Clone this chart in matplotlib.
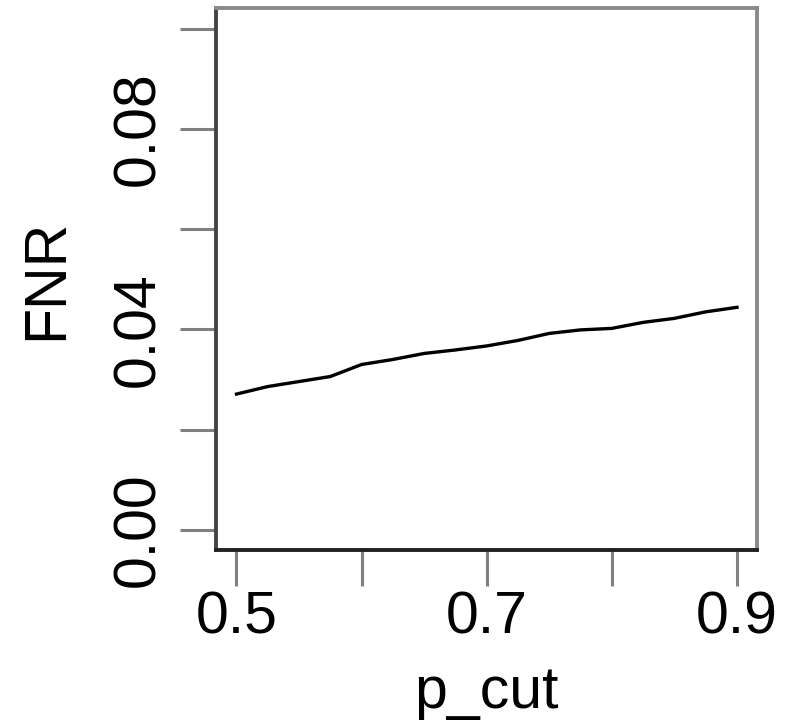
import matplotlib
matplotlib.use("Agg")
import matplotlib.pyplot as plt

# FNR vs p_cut
p_cut = [0.500, 0.525, 0.550, 0.575, 0.600, 0.625, 0.650, 0.675, 0.700,
         0.725, 0.750, 0.775, 0.800, 0.825, 0.850, 0.875, 0.900]
fnr = [0.0271, 0.0286, 0.0296, 0.0306, 0.0330, 0.0340, 0.0352, 0.0359, 0.0367,
       0.0378, 0.0392, 0.0399, 0.0402, 0.0414, 0.0422, 0.0435, 0.0444]

x_ticks = [0.5, 0.6, 0.7, 0.8, 0.9]
x_labels = ["0.5", "", "0.7", "", "0.9"]
y_ticks = [0.00, 0.02, 0.04, 0.06, 0.08, 0.10]
y_labels = ["0.00", "", "0.04", "", "0.08", ""]

plt.rcParams["font.family"] = ["Liberation Sans", "DejaVu Sans"]
fsize = 42.5

fig = plt.figure(figsize=(7.86, 7.24), dpi=100)
ax = fig.add_axes([0.2754, 0.2403, 0.6877, 0.748])

ax.plot(p_cut, fnr, color="black", linewidth=2.4)

ax.set_xlim(0.484, 0.916)
ax.set_ylim(-0.004, 0.104)
ax.set_xticks(x_ticks)
ax.set_xticklabels(x_labels)
ax.set_yticks(y_ticks)
ax.set_yticklabels(y_labels, rotation=90, va="center")

ax.tick_params(axis="both", direction="out", length=26, width=2.2,
               color="#808080", labelsize=fsize, labelcolor="black")
ax.tick_params(axis="x", pad=3)
ax.tick_params(axis="y", pad=10)

ax.spines["left"].set_color("#444444")
ax.spines["bottom"].set_color("#222222")
ax.spines["top"].set_color("#8a8a8a")
ax.spines["right"].set_color("#8a8a8a")
for s in ax.spines.values():
    s.set_linewidth(2.8)

ax.set_xlabel("p_cut", fontsize=fsize)
ax.set_ylabel("FNR", fontsize=fsize)
ax.xaxis.set_label_coords(0.5, -0.212)
ax.yaxis.set_label_coords(-0.264, 0.5)

fig.savefig("out.png", dpi=100)
